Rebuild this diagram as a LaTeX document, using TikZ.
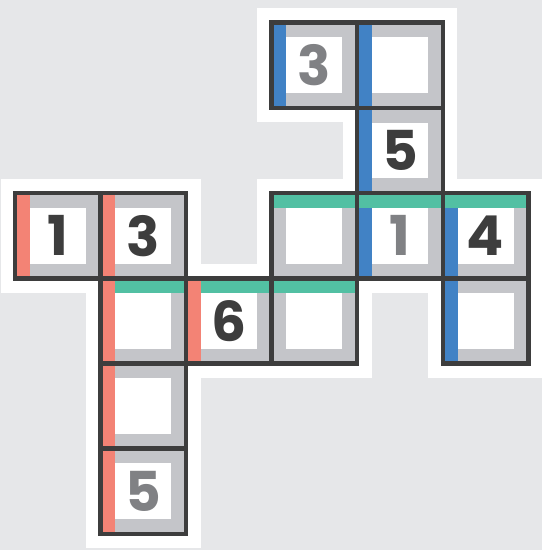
\documentclass[tikz,border=0pt]{standalone}
\usepackage{fontspec}
\setmainfont{Poppins}
\definecolor{bg}{HTML}{E6E7E9}
\definecolor{dk}{HTML}{3D3D3D}
\definecolor{fr}{HTML}{C4C5C9}
\definecolor{rd}{HTML}{F38375}
\definecolor{bl}{HTML}{4182C5}
\definecolor{gn}{HTML}{52C0A3}
\definecolor{gd}{HTML}{808184}
\def\mynone{none}
\tikzset{
  lbar/.code={\def\mylbar{#1}},
  tbar/.code={\def\mytbar{#1}},
  Lbar/.code={\def\myLbar{#1}},
  grey digit/.style={text=gd},
  cell/.style={minimum width=85.55pt, minimum height=85.2pt, inner sep=0pt, outer sep=0pt,
    fill=fr, draw=dk, line width=4.5pt, text=dk,
    font=\bfseries\fontsize{55}{55}\selectfont,
    lbar=none, tbar=none, Lbar=none,
    path picture={
      \fill[white] ([shift={(14.75pt,-14.75pt)}]path picture bounding box.north west)
        rectangle ([shift={(-14.75pt,14.75pt)}]path picture bounding box.south east);
      \ifx\mylbar\mynone\else
        \fill[\mylbar] ([shift={(2.25pt,-2.25pt)}]path picture bounding box.north west)
          rectangle ([shift={(14.75pt,2.25pt)}]path picture bounding box.south west);
      \fi
      \ifx\mytbar\mynone\else
        \fill[\mytbar] ([shift={(2.25pt,-2.25pt)}]path picture bounding box.north west)
          rectangle ([shift={(-2.25pt,-14.75pt)}]path picture bounding box.north east);
      \fi
      \ifx\myLbar\mynone\else
        \fill[\myLbar] ([shift={(2.25pt,-2.25pt)}]path picture bounding box.north west)
          rectangle ([shift={(14.75pt,2.25pt)}]path picture bounding box.south west);
      \fi
    }},
}
\begin{document}
\begin{tikzpicture}[x=1pt,y=-1pt]
\useasboundingbox (0,0) rectangle (542,550);
\fill[bg] (0,0) rectangle (542,550);
% white halo
\foreach \c/\r in {3/0,4/0,4/1,0/2,1/2,3/2,4/2,5/2,1/3,2/3,3/3,5/3,1/4,1/5}
  \fill[white] ({15+85.55*\c-14.5},{22.7+85.2*\r-14.5}) rectangle +(114.55,114.2);
% cells
\node[cell, lbar=bl, grey digit] (c30) at (314.43,65.3) {3};
\node[cell, lbar=bl] (c40) at (399.98,65.3) {};
\node[cell, lbar=bl] (c41) at (399.98,150.5) {5};
\node[cell, Lbar=rd] (c02) at (57.78,235.7) {1};
\node[cell, Lbar=rd] (c12) at (143.33,235.7) {3};
\node[cell, tbar=gn] (c32) at (314.43,235.7) {};
\node[cell, lbar=bl, tbar=gn, grey digit] (c42) at (399.98,235.7) {1};
\node[cell, lbar=bl, tbar=gn] (c52) at (485.53,235.7) {4};
\node[cell, Lbar=rd, tbar=gn] (c13) at (143.33,320.9) {};
\node[cell, Lbar=rd, tbar=gn] (c23) at (228.88,320.9) {6};
\node[cell, tbar=gn] (c33) at (314.43,320.9) {};
\node[cell, lbar=bl] (c53) at (485.53,320.9) {};
\node[cell, Lbar=rd] (c14) at (143.33,406.1) {};
\node[cell, Lbar=rd, grey digit] (c15) at (143.33,491.3) {5};
\end{tikzpicture}
\end{document}
